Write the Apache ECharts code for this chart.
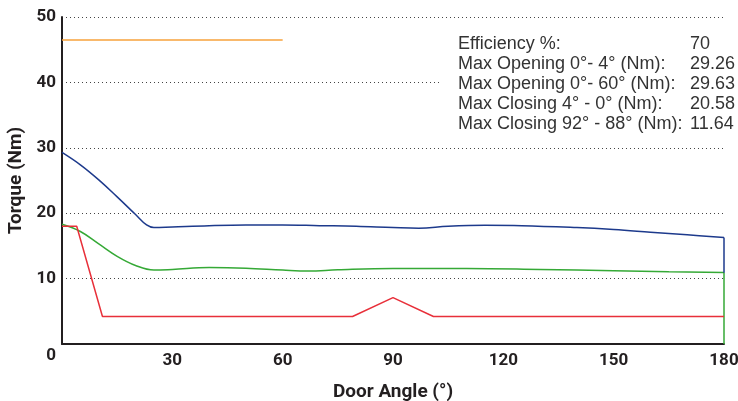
<!DOCTYPE html>
<html><head><meta charset="utf-8">
<script src="https://cdn.jsdelivr.net/npm/echarts@6/dist/echarts.min.js"></script>
<style>html,body{margin:0;padding:0;background:#fff}#c{width:738px;height:401px}</style>
</head><body><div id="c"></div>
<script>
var xTicks = [0, 30, 60, 90, 120, 150, 180];
var yTicks = [0, 10, 20, 30, 40, 50];
var openingAngle = [0, 5, 10, 15, 20, 23, 25, 30, 40, 50, 60, 70, 80, 90, 97, 105, 115, 125, 140, 150, 160, 170, 180, 180];
var openingTorque = [29.3, 27.4, 25.1, 22.5, 19.8, 18.2, 17.8, 17.9, 18.1, 18.2, 18.2, 18.1, 18.0, 17.8, 17.7, 18.0, 18.15, 18.1, 17.8, 17.5, 17.1, 16.7, 16.3, 10.9];
var closingAngle = [0, 5, 10, 15, 20, 25, 30, 40, 50, 60, 67, 75, 90, 110, 130, 150, 165, 180, 180];
var closingTorque = [18.3, 17.2, 15.3, 13.4, 12.0, 11.3, 11.4, 11.7, 11.6, 11.3, 11.15, 11.35, 11.55, 11.55, 11.4, 11.2, 11.05, 10.95, 0];
var redAngle = [0, 4, 11, 79, 90, 101, 180];
var redTorque = [18.0, 18.0, 4.2, 4.2, 7.1, 4.2, 4.2];
var limitAngle = [0, 60];
var limitTorque = [46.5, 46.5];
var statLabels = ['Efficiency %:', 'Max Opening 0°- 4° (Nm):', 'Max Opening 0°- 60° (Nm):', 'Max Closing 4° - 0° (Nm):', 'Max Closing 92° - 88° (Nm):'];
var statValues = ['70', '29.26', '29.63', '20.58', '11.64'];

function pairs(xs, ys) { return xs.map(function (x, i) { return [x, ys[i]]; }); }
// smooth curve part (all but the final vertical drop) and the vertical drop at 180°
function curvePart(xs, ys) { return pairs(xs, ys).slice(0, -1); }
function dropPart(xs, ys) { return pairs(xs, ys).slice(-2); }

var blue = '#1d3a8c', green = '#35a936';
var chart = echarts.init(document.getElementById('c'), null, { renderer: 'canvas' });
var axisFont = { fontFamily: 'Roboto', fontWeight: 'bold', fontSize: 17, color: '#231f20' };
var nameFont = { fontFamily: 'Roboto', fontWeight: 'bold', fontSize: 19, color: '#231f20' };
chart.setOption({
  animation: false,
  grid: { left: 62, right: 14, top: 17, bottom: 57, containLabel: false, outerBoundsMode: 'none' },
  xAxis: {
    type: 'value', min: xTicks[0], max: xTicks[xTicks.length - 1], interval: 30,
    name: 'Door Angle (°)', nameLocation: 'middle', nameGap: 39,
    nameTextStyle: nameFont,
    axisLine: { lineStyle: { color: '#231f20', width: 2 } },
    axisTick: { show: false },
    splitLine: { show: false },
    axisLabel: Object.assign({ margin: 8, formatter: function (v) { return v === 0 ? '' : String(v); } }, axisFont)
  },
  yAxis: {
    type: 'value', min: yTicks[0], max: yTicks[yTicks.length - 1], interval: 10,
    name: 'Torque (Nm)', nameLocation: 'middle', nameGap: 31,
    nameTextStyle: nameFont,
    axisLine: { show: true, lineStyle: { color: '#231f20', width: 2 } },
    axisTick: { show: false },
    splitLine: { show: true, lineStyle: { color: '#444', type: [1, 3], width: 1 } },
    axisLabel: Object.assign({ margin: 6,
      formatter: function (v) { return v === 0 ? '{z|0}' : String(v); },
      rich: { z: { fontFamily: 'Roboto', fontWeight: 'bold', fontSize: 17, color: '#231f20', padding: [24, 0, 0, 0] } }
    }, axisFont)
  },
  series: [
    { type: 'line', data: pairs(limitAngle, limitTorque), showSymbol: false, lineStyle: { color: '#f7a23b', width: 1.5 }, z: 3 },
    { type: 'line', data: curvePart(openingAngle, openingTorque), showSymbol: false, smooth: 0.4, lineStyle: { color: blue, width: 1.5 }, z: 4 },
    { type: 'line', data: dropPart(openingAngle, openingTorque), showSymbol: false, lineStyle: { color: blue, width: 1.5 }, z: 4 },
    { type: 'line', data: curvePart(closingAngle, closingTorque), showSymbol: false, smooth: 0.4, lineStyle: { color: green, width: 1.5 }, z: 3 },
    { type: 'line', data: dropPart(closingAngle, closingTorque), showSymbol: false, lineStyle: { color: green, width: 1.5 }, z: 3 },
    { type: 'line', data: pairs(redAngle, redTorque), showSymbol: false, lineStyle: { color: '#e8303a', width: 1.5 }, z: 5 }
  ],
  graphic: [
    { type: 'rect', left: 442, top: 28, shape: { width: 296, height: 107 }, style: { fill: '#ffffff' }, z: 50 },
    { type: 'text', left: 458, top: 34, z: 51, style: { text: statLabels.join('\n'), fontFamily: 'Liberation Sans', fontSize: 18, lineHeight: 20, fill: '#333333' } },
    { type: 'text', left: 690, top: 34, z: 51, style: { text: statValues.join('\n'), fontFamily: 'Liberation Sans', fontSize: 18, lineHeight: 20, fill: '#333333' } }
  ]
});
</script></body></html>
